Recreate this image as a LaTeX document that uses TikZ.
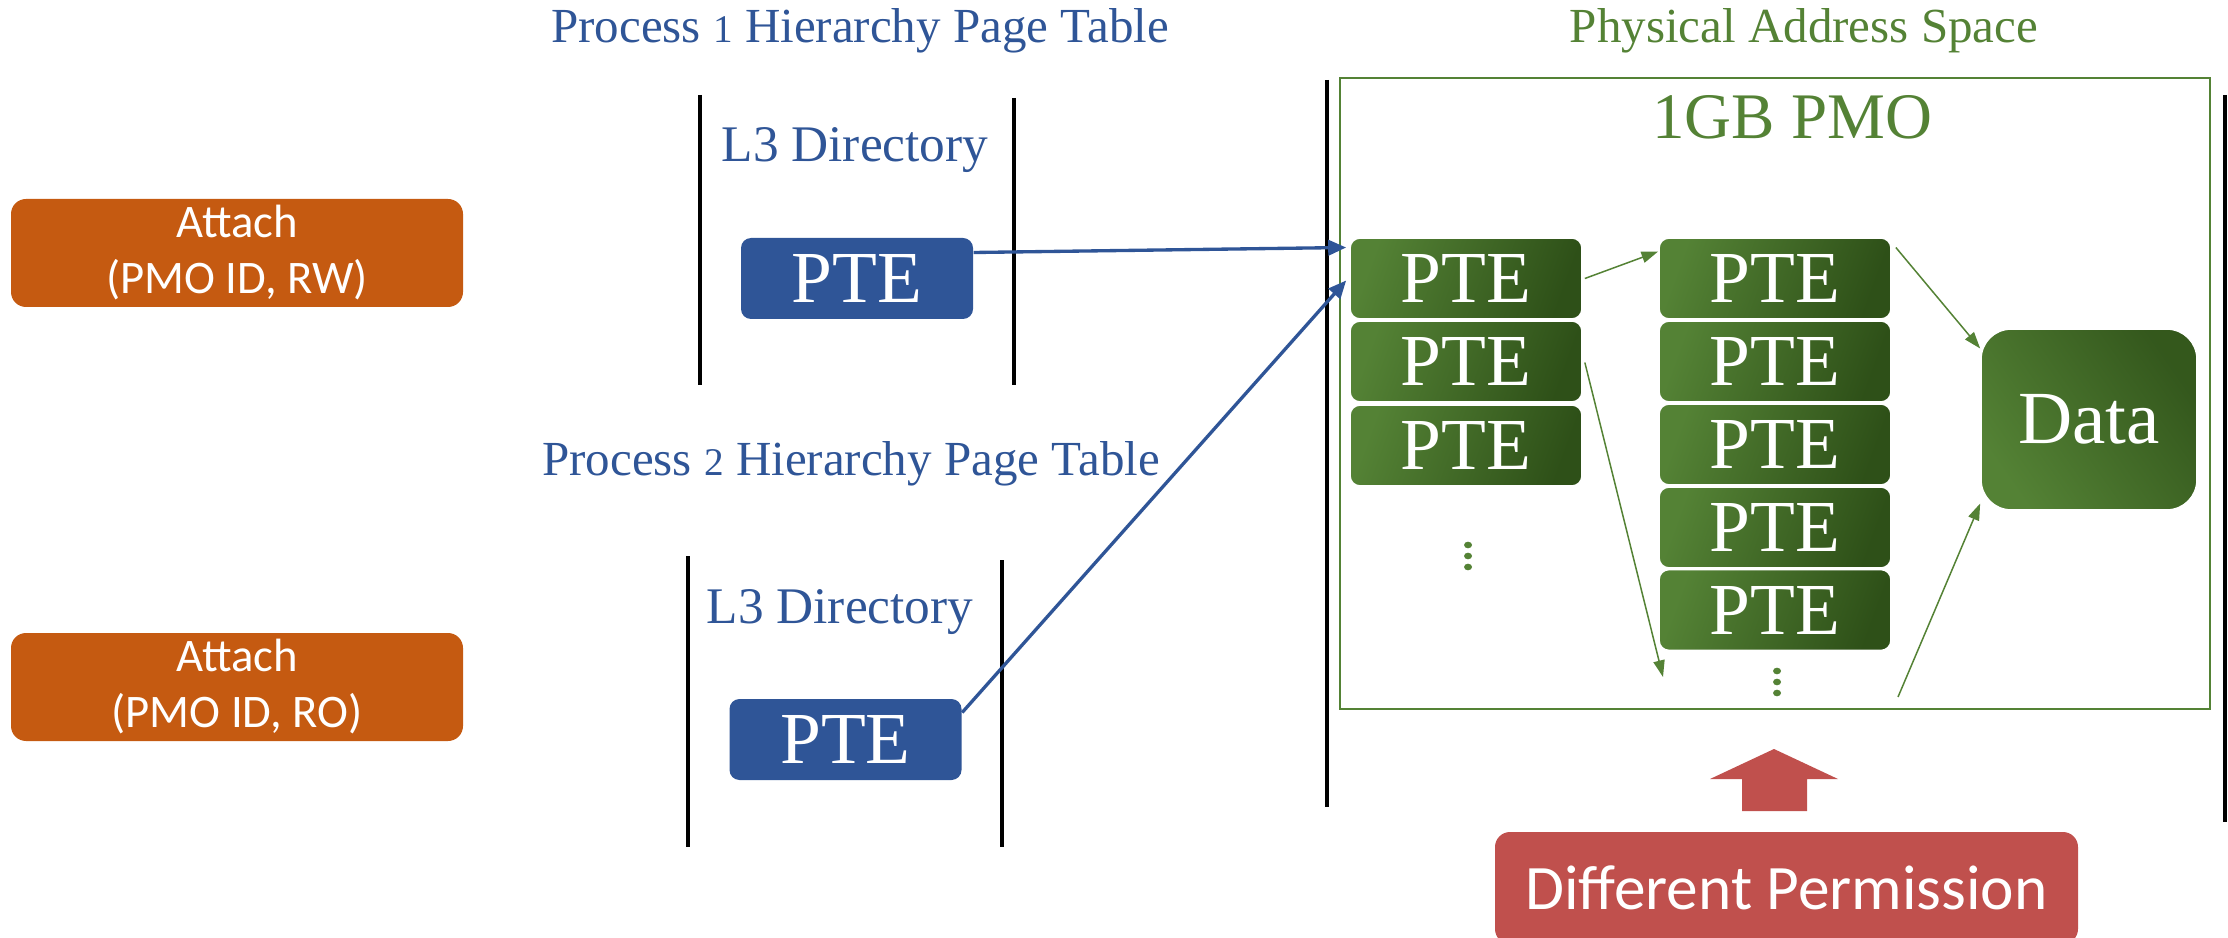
\documentclass[tikz,border=0pt]{standalone}
\usepackage{fontspec}
\usepackage{graphicx}
\setmainfont{Liberation Serif}
\newfontfamily\calib{Carlito}
\usetikzlibrary{arrows.meta,calc}
\definecolor{pblue}{HTML}{2F5597}
\definecolor{porange}{HTML}{C55A11}
\definecolor{pgreen}{HTML}{548235}
\definecolor{pgreendark}{HTML}{2E5018}
\definecolor{pred}{HTML}{C0504D}
% old-style looking digits for the titles
\newcommand{\osd}[1]{\scalebox{0.8}{#1}}

\begin{document}
\begin{tikzpicture}[x=0.3pt,y=-0.3pt,
  title/.style={anchor=base, inner sep=0pt, font=\fontsize{14.7}{17}\selectfont},
  dirlabel/.style={anchor=base, inner sep=0pt, text=pblue, font=\fontsize{15.4}{18}\selectfont},
  attachbox/.style={rounded corners=4.5pt, fill=porange, text=white, align=center,
    minimum width=135.6pt, minimum height=32.4pt, inner sep=0pt,
    font=\calib\fontsize{14}{16.8}\selectfont},
  bluepte/.style={rounded corners=3pt, fill=pblue, text=white, inner sep=0pt,
    minimum width=69.6pt, minimum height=24.3pt, font=\fontsize{22}{24}\selectfont},
  greenpte/.style={rounded corners=3pt, draw=white, line width=0.5pt,
    left color=pgreen, right color=pgreendark, shading angle=70, text=white, inner sep=0pt,
    minimum width=69.6pt, minimum height=24.3pt, font=\fontsize{22}{24}\selectfont},
  databox/.style={rounded corners=9pt, draw=white, line width=0.5pt,
    left color=pgreen, right color=pgreendark!85!pgreen, shading angle=125, text=white, inner sep=0pt,
    minimum width=64.8pt, minimum height=54.3pt, font=\fontsize{22.5}{24}\selectfont},
  permbox/.style={rounded corners=4.5pt, fill=pred, text=white, inner sep=0pt,
    minimum width=174.9pt, minimum height=33.6pt, font=\calib\fontsize{19}{22}\selectfont},
  divider/.style={line width=1pt, black},
  bluearrow/.style={pblue, line width=1pt, -{Triangle[length=5.4pt,width=4.6pt]}},
  greenarrow/.style={pgreen, line width=0.45pt, -{Triangle[length=5pt,width=3.4pt]}},
  vdot/.style={pgreen}
]
\useasboundingbox (0,0) rectangle (2228,938);
\clip (0,0) rectangle (2228,938);

% ---- titles ----
\node[title, text=pblue] (t1) at (860,43) {Process \osd{1} Hierarchy Page Table};
\node[title, text=pblue] (t2) at (851,476) {Process \osd{2} Hierarchy Page Table};
\node[title, text=pgreen] (t3) at (1804,43) {Physical Address Space};

% ---- attach requests ----
\node[attachbox] (att1) at (237,253) {Attach\\(PMO ID, RW)};
\node[attachbox] (att2) at (237,687) {Attach\\(PMO ID, RO)};

% ---- process 1 page table ----
\draw[divider] (700,95) -- (700,385);
\draw[divider] (1014,98) -- (1014,385);
\node[dirlabel] (d1) at (855,162) {L3 Directory};
\node[bluepte] (p1) at (857,278.5) {PTE};

% ---- process 2 page table ----
\draw[divider] (688,556) -- (688,847);
\draw[divider] (1002,560) -- (1002,847);
\node[dirlabel] (d2) at (840,623) {L3 Directory};
\node[bluepte] (p2) at (845.5,739.5) {PTE};

% ---- physical address space ----
\draw[divider] (1327,80) -- (1327,807);
\draw[divider] (2225,95) -- (2225,822);
\draw[pgreen, line width=0.8pt] (1340,78) rectangle (2210,709);
\node[anchor=base, inner sep=0pt, text=pgreen, font=\fontsize{19.5}{22}\selectfont] (pmo) at (1792,139) {1GB PMO};

% first-level PTE column
\node[greenpte] (c1a) at (1466,278.5) {PTE};
\node[greenpte] (c1b) at (1466,361.5) {PTE};
\node[greenpte] (c1c) at (1466,445.5) {PTE};
\foreach \y in {545,556,567} \fill[vdot] (1468,\y) ellipse [x radius=4, y radius=3.3];

% second-level PTE column
\node[greenpte] (c2a) at (1775,278.5) {PTE};
\node[greenpte] (c2b) at (1775,361.5) {PTE};
\node[greenpte] (c2c) at (1775,444.5) {PTE};
\node[greenpte] (c2d) at (1775,527.5) {PTE};
\node[greenpte] (c2e) at (1775,610) {PTE};
\foreach \y in {671,682,693} \fill[vdot] (1777,\y) ellipse [x radius=4, y radius=3.3];

% data page
\node[databox] (data) at (2089,419.5) {Data};

% ---- connectors ----
\draw[bluearrow] ($(p1.east)+(0,-26)$) -- ($(c1a.west)+(-3,-31)$);
\draw[bluearrow] ($(p2.east)+(0,-27)$) -- ($(c1a.west)+(-3,2)$);

\coordinate (cEnd) at (1663,677);
\coordinate (dStart) at (1898,697);
\draw[greenarrow] ($(c1a.east)+(2,0)$) -- ($(c2a.west)+(0,-27)$);
\draw[greenarrow] ($(c2a.east)+(4,-31)$) -- ($(data.west)+(0,-71)$);
\draw[greenarrow] ($(c1b.east)+(2,1)$) -- (cEnd);
\draw[greenarrow] (dStart) -- ($(data.west)+(0,84)$);

% ---- permission note ----
\fill[pred] (1742,811) -- (1742,779) -- (1710,779) -- (1774,749) -- (1838,779)
  -- (1807,779) -- (1807,811) -- cycle;
\node[permbox] (perm) at (1786.5,888) {Different Permission};
\end{tikzpicture}
\end{document}
